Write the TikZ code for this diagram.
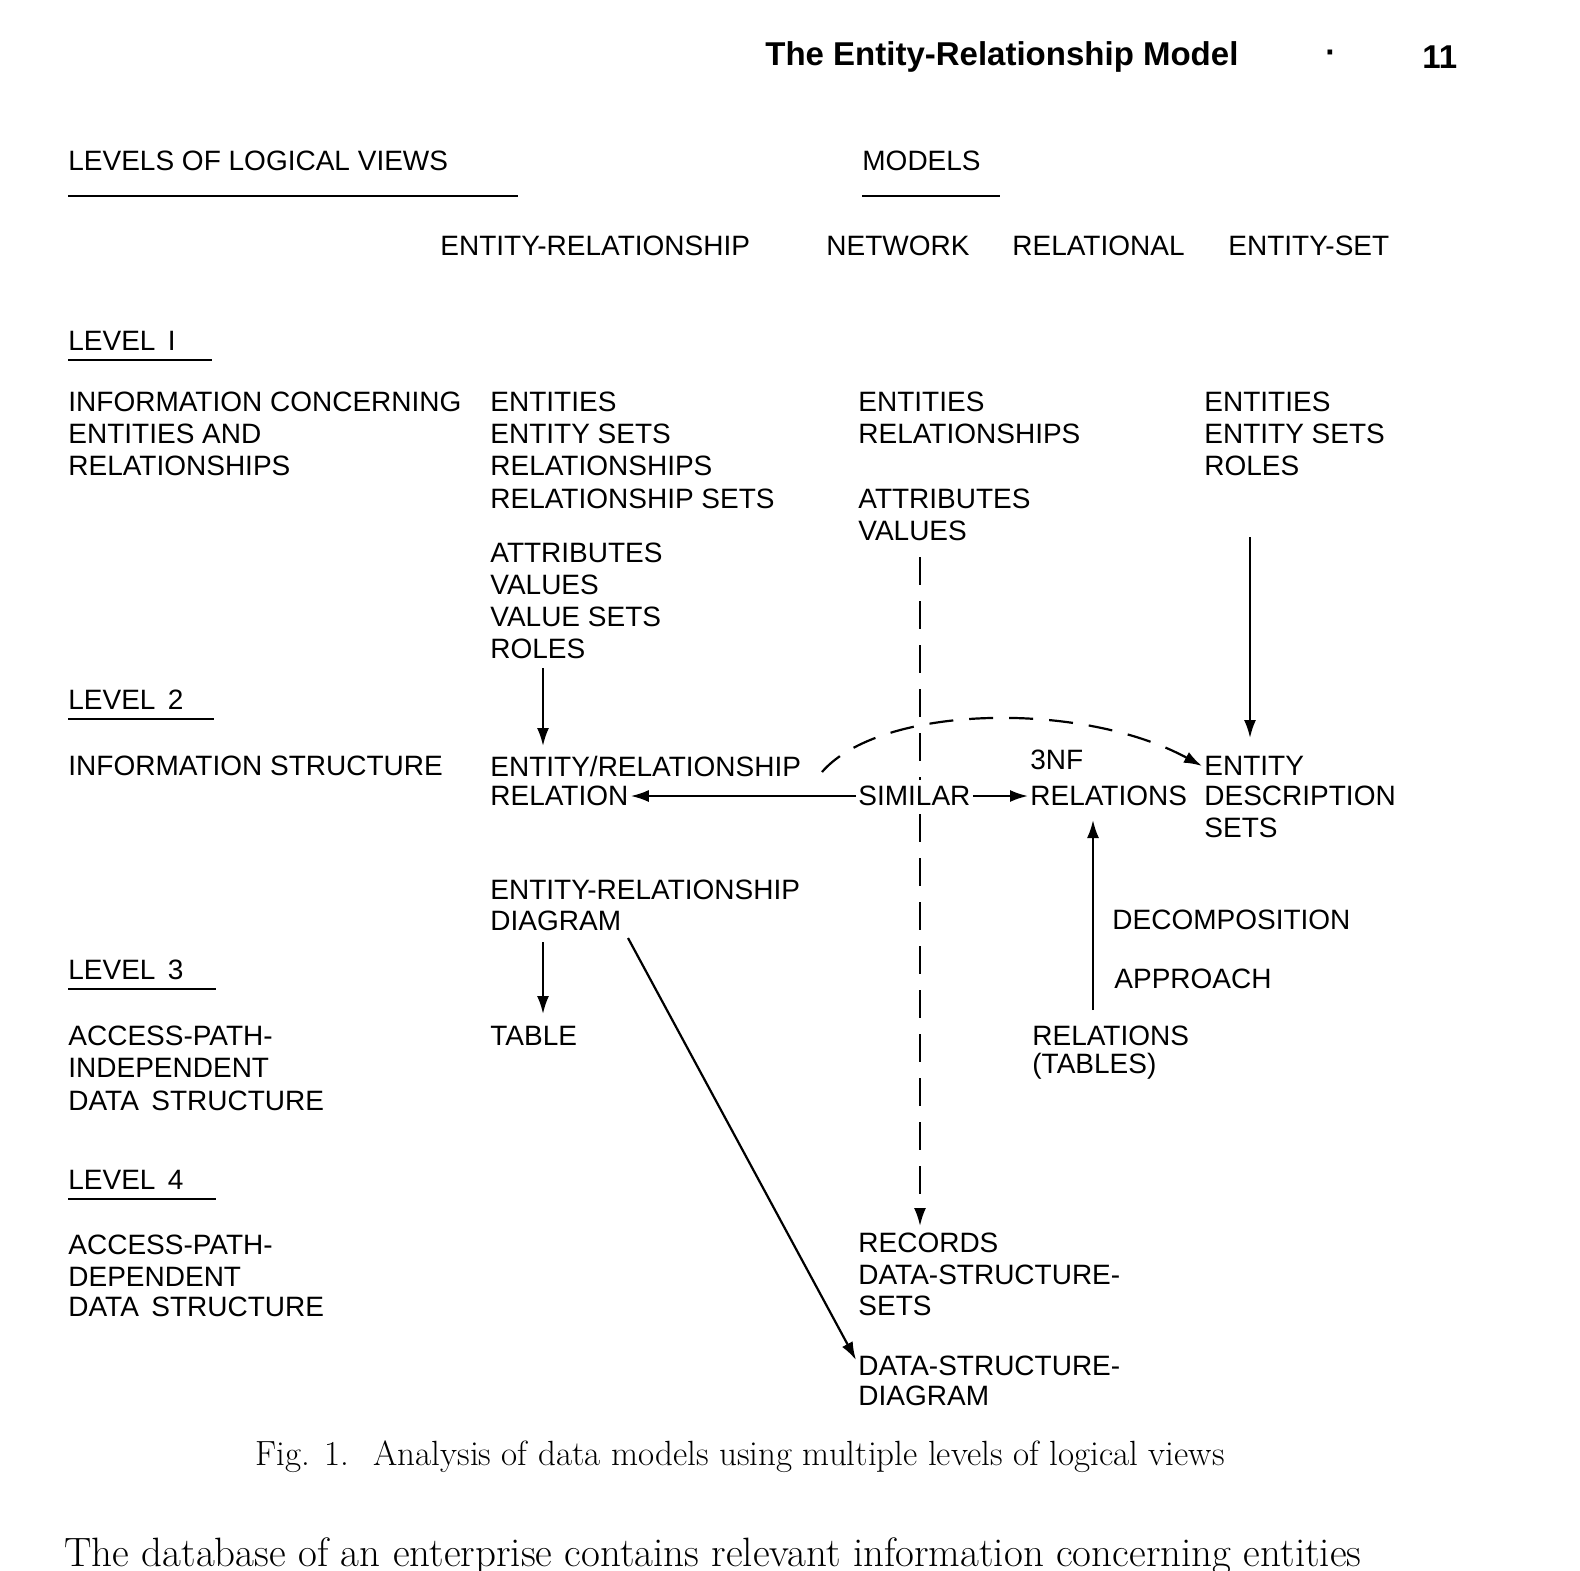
\documentclass[tikz,border=0pt]{standalone}
\usepackage{fontspec}
\setsansfont{Liberation Sans}
\usetikzlibrary{arrows.meta}
\begin{document}
\begin{tikzpicture}[x=0.5pt,y=-0.5pt,
  t/.style={anchor=west,inner sep=1pt,font=\sffamily\fontsize{14}{16}\selectfont},
  a/.style={-{Latex[length=9pt,width=6pt]},line width=1.1pt},
  ul/.style={line width=1.2pt}]
\useasboundingbox[fill=white] (0,0) rectangle (1580,1570);
\node[t,font=\sffamily\bfseries\fontsize{16.5}{18}\selectfont] (hd) at (763,57) {The Entity-Relationship Model};
\node[t,font=\sffamily\bfseries\fontsize{16.5}{18}\selectfont] (dot) at (1323,57) {·};
\node[t,font=\sffamily\bfseries\fontsize{16.5}{18}\selectfont] (pg) at (1420,57) {11};
\node[t] (lv) at (66,161) {LEVELS OF LOGICAL VIEWS};
\draw[ul] (68,196) -- (518,196);
\node[t] (md) at (860,161) {MODELS};
\draw[ul] (862,196) -- (1000,196);
\node[t] (m1) at (438,246) {ENTITY-RELATIONSHIP};
\node[t] (m2) at (824,246) {NETWORK};
\node[t] (m3) at (1010,246) {RELATIONAL};
\node[t] (m4) at (1226,246) {ENTITY-SET};
\node[t] (l1) at (66,341) {LEVEL \,I};
\draw[ul] (68,360) -- (212,360);
\node[t] (i1) at (66,402) {INFORMATION CONCERNING};
\node[t] (i2) at (66,434) {ENTITIES AND};
\node[t] (i3) at (66,466) {RELATIONSHIPS};
\node[t] (e1) at (488,402) {ENTITIES};
\node[t] (e2) at (488,434) {ENTITY SETS};
\node[t] (e3) at (488,466) {RELATIONSHIPS};
\node[t] (e4) at (488,499) {RELATIONSHIP SETS};
\node[t] (e5) at (488,553) {ATTRIBUTES};
\node[t] (e6) at (488,585) {VALUES};
\node[t] (e7) at (488,617) {VALUE SETS};
\node[t] (roles) at (488,649) {ROLES};
\node[t] (n1) at (856,402) {ENTITIES};
\node[t] (n2) at (856,434) {RELATIONSHIPS};
\node[t] (n3) at (856,499) {ATTRIBUTES};
\node[t] (n4) at (856,531) {VALUES};
\node[t] (s1) at (1202,402) {ENTITIES};
\node[t] (s2) at (1202,434) {ENTITY SETS};
\node[t] (s3) at (1202,466) {ROLES};
\node[t] (l2) at (66,700) {LEVEL \,2};
\draw[ul] (68,719) -- (214,719);
\node[t] (is) at (66,766) {INFORMATION STRUCTURE};
\node[t] (er2) at (488,766) {ENTITY/RELATIONSHIP};
\node[t] (rel) at (488,796) {RELATION};
\node[t] (sim) at (856,796) {SIMILAR};
\node[t] (nf) at (1028,760) {3NF};
\node[t] (rels) at (1028,796) {RELATIONS};
\node[t] (ent) at (1202,766) {ENTITY};
\node[t] (desc) at (1202,796) {DESCRIPTION};
\node[t] (sets) at (1202,828) {SETS};
\node[t] (erd1) at (488,890) {ENTITY-RELATIONSHIP};
\node[t] (erd2) at (488,921) {DIAGRAM};
\node[t] (l3) at (66,970) {LEVEL \,3};
\draw[ul] (68,989) -- (216,989);
\node[t] (a1) at (66,1036) {ACCESS-PATH-};
\node[t] (a2) at (66,1068) {INDEPENDENT};
\node[t] (a3) at (66,1101) {DATA \,STRUCTURE};
\node[t] (tab) at (488,1036) {TABLE};
\node[t] (dec) at (1110,920) {DECOMPOSITION};
\node[t] (app) at (1112,979) {APPROACH};
\node[t] (rt1) at (1030,1036) {RELATIONS};
\node[t] (rt2) at (1030,1066) {(TABLES)};
\node[t] (l4) at (66,1180) {LEVEL \,4};
\draw[ul] (68,1199) -- (216,1199);
\node[t] (d1) at (66,1245) {ACCESS-PATH-};
\node[t] (d2) at (66,1277) {DEPENDENT};
\node[t] (d3) at (66,1307) {DATA \,STRUCTURE};
\node[t] (r1) at (856,1243) {RECORDS};
\node[t] (r2) at (856,1275) {DATA-STRUCTURE-};
\node[t] (r3) at (856,1306) {SETS};
\node[t] (dd1) at (856,1366) {DATA-STRUCTURE-};
\node[t] (dd2) at (856,1396) {DIAGRAM};
\node[anchor=center,font=\rmfamily\fontsize{17.5}{20}\selectfont] (cap) at (740,1457) {Fig. 1. \ Analysis of data models using multiple levels of logical views};
\begin{scope}
\clip (0,0) rectangle (1580,1570);
\node[anchor=west,inner sep=0pt,font=\rmfamily\fontsize{20.5}{22}\selectfont] (body) at (64,1556) {The database of an enterprise contains relevant information concerning entities};
\end{scope}
% arrows
\coordinate (c1) at (543,668);
\coordinate (c2) at (543,746);
\draw[a] (c1) -- (c2);
\coordinate (c3) at (1250,537);
\coordinate (c4) at (1250,738);
\draw[a] (c3) -- (c4);
\coordinate (v1) at (920,557);
\coordinate (v2) at (920,780);
\coordinate (v3) at (920,814);
\coordinate (v4) at (920,1226);
\draw[line width=1.1pt,dash pattern=on 14pt off 8pt] (v1) -- (v2);
\draw[a,dash pattern=on 14pt off 8pt] (v3) -- (v4);
\coordinate (q1) at (822,772);
\coordinate (q2) at (1202,766);
\draw[a,dash pattern=on 12pt off 8pt] (q1) .. controls (880,705) and (1080,700) .. (q2);
\draw[a] (sim.west) -- (rel.east);
\draw[a] (sim.east) -- (rels.west);
\coordinate (u1) at (1093,1010);
\coordinate (u2) at (1093,820);
\draw[a] (u1) -- (u2);
\coordinate (w1) at (543,942);
\coordinate (w2) at (543,1014);
\draw[a] (w1) -- (w2);
\coordinate (z1) at (628,938);
\coordinate (z2) at (856,1360);
\draw[a] (z1) -- (z2);
\end{tikzpicture}
\end{document}
